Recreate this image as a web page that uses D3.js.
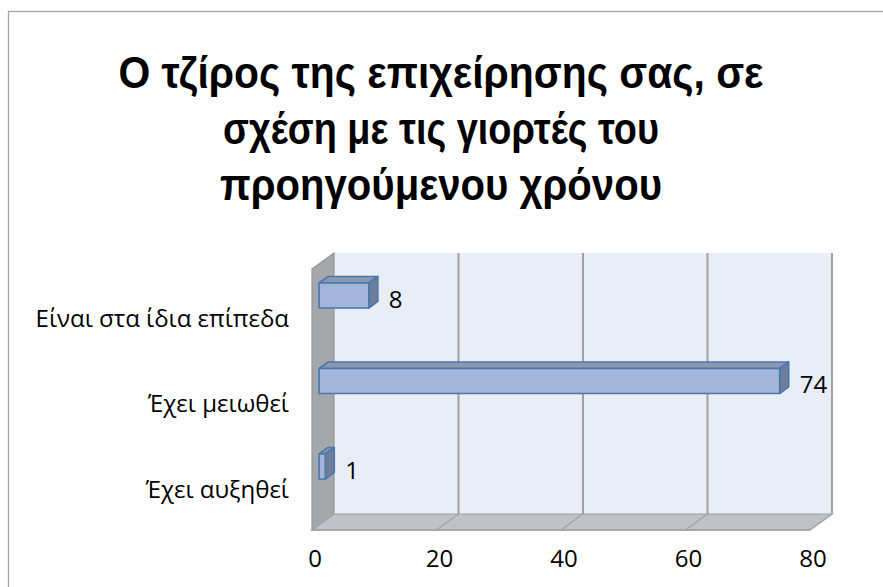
<!DOCTYPE html>
<html>
<head>
<meta charset="utf-8">
<script src="https://cdn.jsdelivr.net/npm/d3@7"></script>
<style>
  html, body { margin: 0; padding: 0; background: #ffffff; }
  svg { display: block; }
</style>
</head>
<body>
<svg id="chart" width="883" height="587"></svg>
<script>
// ---- data ----
const titleLines = ["Ο τζίρος της επιχείρησης σας, σε", "σχέση με τις γιορτές του", "προηγούμενου χρόνου"];
const categories = ["Είναι στα ίδια επίπεδα", "Έχει μειωθεί", "Έχει αυξηθεί"];
const values = [8, 74, 1];
const xTicks = [0, 20, 40, 60, 80];

// ---- layout ----
const svg = d3.select("#chart");
const W = 883, H = 587;
const font = "'Open Sans', 'Noto Sans', sans-serif";
const titleFont = "'Liberation Sans', Arial, sans-serif";
const labelSize = 24;

// chart frame
svg.append("rect").attr("x", 8.5).attr("y", 11.5).attr("width", W + 10).attr("height", H + 10)
  .attr("fill", "#ffffff").attr("stroke", "#a6a6a6").attr("stroke-width", 1.3);

// 3D geometry
const front = { x0: 312, yTop: 269, yBot: 530 };
const depthDX = 22, depthDY = -16;          // from front plane to back wall
const x = d3.scaleLinear().domain([0, 80]).range([front.x0, front.x0 + 498]);
const backTop = front.yTop + depthDY, backBot = front.yBot + depthDY;
const bx = v => x(v) + depthDX;

// back wall
svg.append("rect").attr("x", bx(0)).attr("y", backTop).attr("width", bx(80) - bx(0)).attr("height", backBot - backTop)
  .attr("fill", "#e9edf6");

// side wall
svg.append("polygon")
  .attr("points", [[x(0), front.yTop], [bx(0), backTop], [bx(0), backBot], [x(0), front.yBot]].map(p => p.join(",")).join(" "))
  .attr("fill", "#a5a7aa").attr("stroke", "#959799").attr("stroke-width", 1.2);

// floor
svg.append("polygon")
  .attr("points", [[bx(0), backBot], [bx(80), backBot], [x(80), front.yBot], [x(0), front.yBot]].map(p => p.join(",")).join(" "))
  .attr("fill", "#bfc2c6").attr("stroke", "#9fa1a4").attr("stroke-width", 1.2);

// gridlines on back wall and floor
const grid = svg.append("g");
xTicks.forEach(t => {
  if (t > 0) {
    grid.append("line").attr("x1", bx(t)).attr("x2", bx(t)).attr("y1", backTop).attr("y2", backBot)
      .attr("stroke", "#a0a0a0").attr("stroke-width", 2);
  }
  grid.append("line").attr("x1", bx(t)).attr("x2", x(t)).attr("y1", backBot).attr("y2", front.yBot)
    .attr("stroke", "#a3a5a8").attr("stroke-width", 1.3);
});
svg.append("line").attr("x1", x(0)).attr("x2", x(80)).attr("y1", front.yBot).attr("y2", front.yBot)
  .attr("stroke", "#9c9ea1").attr("stroke-width", 1.5);

// bars
const y = d3.scaleBand().domain(categories).range([252.75, 509.25]).paddingInner(0.7076).paddingOuter(0.3538);
const dF = 0.32, dB = 0.73;            // bar depth (fraction of wall depth)
const px = (v, d) => x(v) + depthDX * d;

const bars = svg.append("g");
categories.forEach((c, i) => {
  const v = values[i];
  const y0 = y(c), y1 = y(c) + y.bandwidth();
  const fx0 = px(0, dF), fx1 = px(v, dF);
  const kx0 = px(0, dB), kx1 = px(v, dB);
  const ddy = depthDY * (dB - dF);
  const g = bars.append("g").attr("stroke", "#4a78ad").attr("stroke-width", 1.6).attr("stroke-linejoin", "round");
  g.append("polygon").attr("points", [[fx0, y0], [kx0, y0 + ddy], [kx1, y0 + ddy], [fx1, y0]].map(p => p.join(",")).join(" "))
    .attr("fill", "#8a98b4");
  g.append("polygon").attr("points", [[fx1, y0], [kx1, y0 + ddy], [kx1, y1 + ddy], [fx1, y1]].map(p => p.join(",")).join(" "))
    .attr("fill", "#6e7d99");
  g.append("rect").attr("x", fx0).attr("y", y0).attr("width", fx1 - fx0).attr("height", y1 - y0)
    .attr("fill", "#a3b5d8");
  // value label
  svg.append("text").attr("x", kx1 + 11).attr("y", (y0 + y1) / 2 + 12)
    .attr("font-family", font).attr("font-size", labelSize).attr("fill", "#000")
    .text(v);
  // category label
  svg.append("text").attr("x", 289).attr("y", (y0 + y1) / 2 + 31)
    .attr("text-anchor", "end").attr("font-family", font).attr("font-size", labelSize).attr("fill", "#000")
    .text(c);
});

// x tick labels
svg.append("g").selectAll("text").data(xTicks).join("text")
  .attr("x", d => x(d) + 3).attr("y", 567).attr("text-anchor", "middle")
  .attr("font-family", font).attr("font-size", labelSize).attr("fill", "#000")
  .text(d => d);

// title
const titleBase = [88, 144, 200];
const titleWidths = [645, 436, 442];
titleLines.forEach((t, i) => {
  const el = svg.append("text").attr("x", 441).attr("y", titleBase[i]).attr("text-anchor", "middle")
    .attr("font-family", titleFont).attr("font-weight", "bold").attr("font-size", 44).attr("fill", "#000")
    .text(t);
  const w = el.node().getComputedTextLength();
  if (w > titleWidths[i]) el.attr("textLength", titleWidths[i]).attr("lengthAdjust", "spacingAndGlyphs");
});
</script>
</body>
</html>
